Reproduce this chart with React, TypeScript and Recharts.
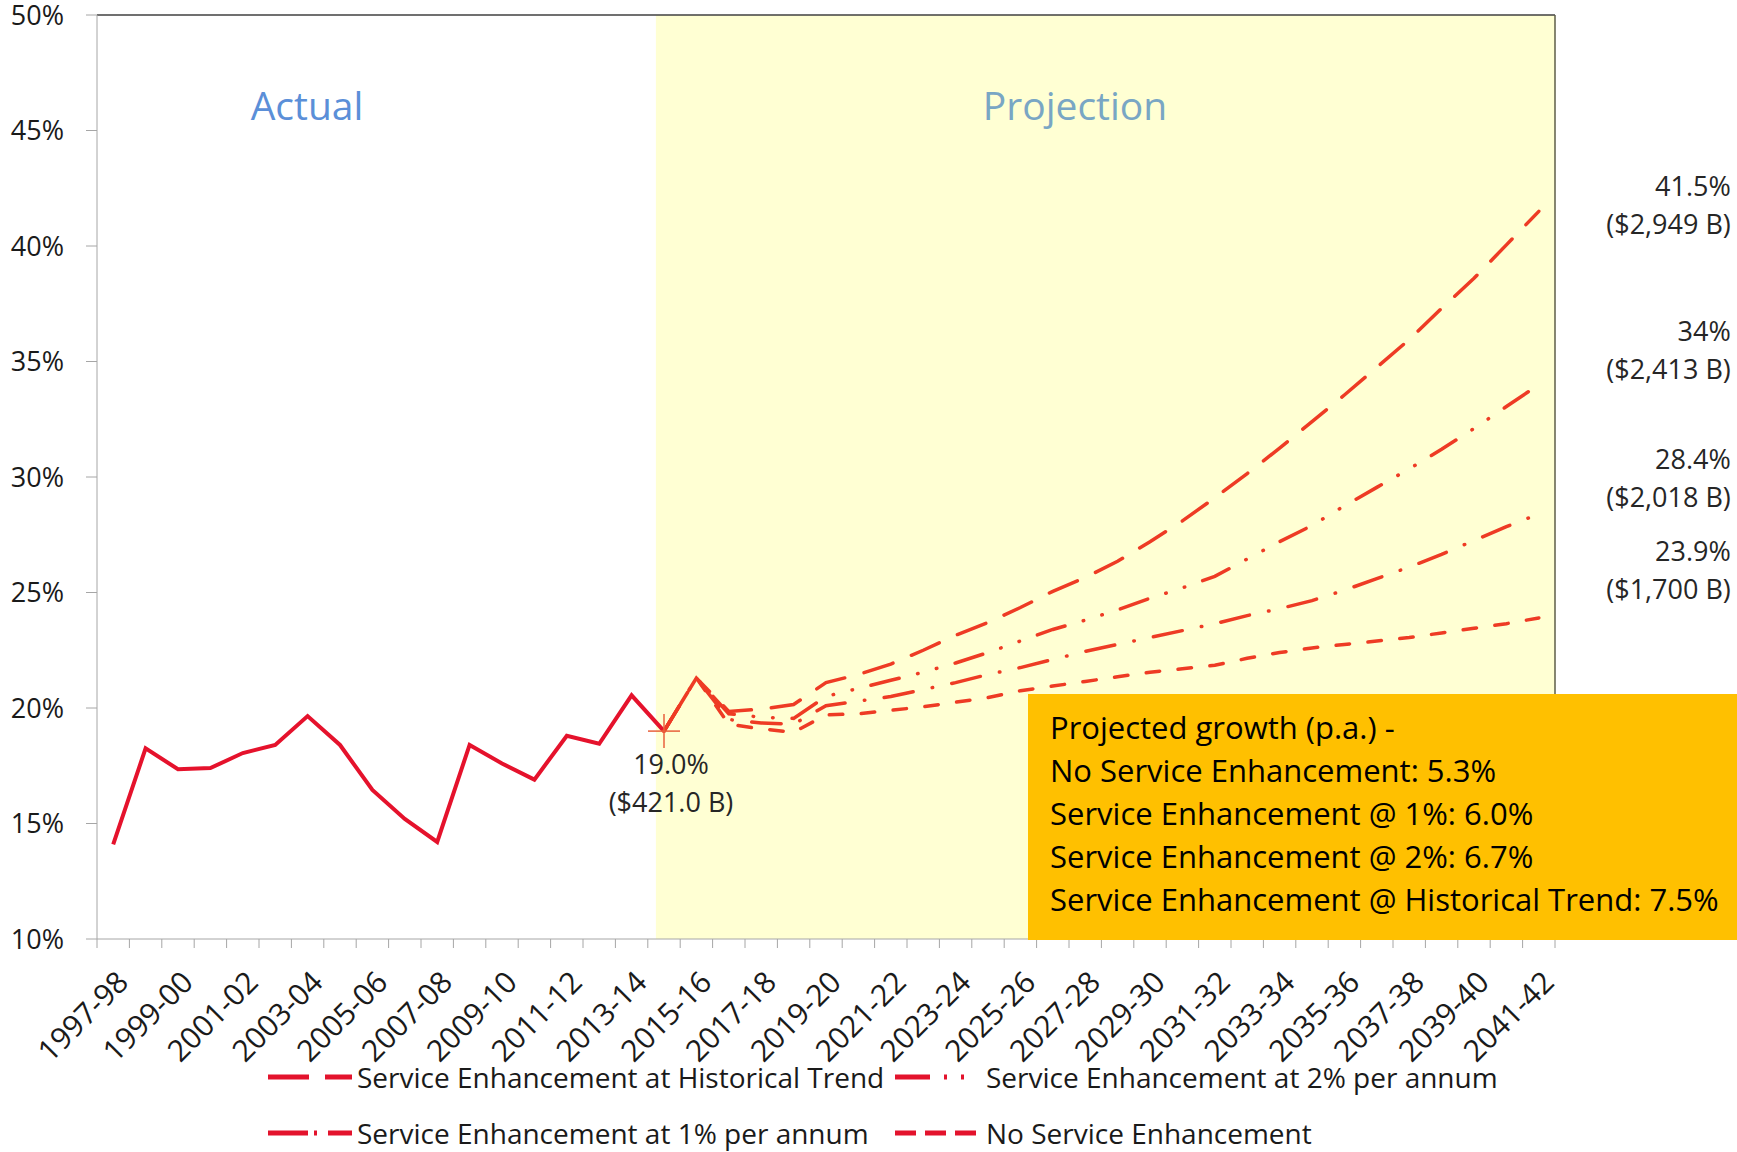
import React from 'react';
import { LineChart, Line, XAxis, YAxis, ReferenceArea, ReferenceLine, Legend } from 'recharts';

const years = [
  '1997-98', '1998-99', '1999-00', '2000-01', '2001-02', '2002-03', '2003-04', '2004-05', '2005-06',
  '2006-07', '2007-08', '2008-09', '2009-10', '2010-11', '2011-12', '2012-13', '2013-14', '2014-15',
  '2015-16', '2016-17', '2017-18', '2018-19', '2019-20', '2020-21', '2021-22', '2022-23', '2023-24',
  '2024-25', '2025-26', '2026-27', '2027-28', '2028-29', '2029-30', '2030-31', '2031-32', '2032-33',
  '2033-34', '2034-35', '2035-36', '2036-37', '2037-38', '2038-39', '2039-40', '2040-41', '2041-42',
];

// % values, 1997-98 .. 2014-15
const actual = [
  14.1, 18.25, 17.35, 17.4, 18.05, 18.4, 19.65, 18.4, 16.45, 15.2, 14.2, 18.4, 17.6, 16.9, 18.8, 18.45,
  20.55, 19.0,
];

// projections start at 2014-15
const projStart = 17;
const historicalTrend = [
  19.0, 21.3, 19.85, 19.95, 20.15, 21.1, 21.45, 21.9, 22.5, 23.15, 23.7, 24.35, 25.05, 25.65, 26.35,
  27.2, 28.1, 29.1, 30.15, 31.25, 32.4, 33.55, 34.75, 35.95, 37.3, 38.6, 40.05, 41.5,
];
const twoPct = [
  19.0, 21.3, 19.75, 19.6, 19.55, 20.5, 20.85, 21.2, 21.55, 21.95, 22.4, 22.9, 23.4, 23.8, 24.25, 24.75,
  25.2, 25.7, 26.45, 27.2, 27.9, 28.75, 29.55, 30.35, 31.2, 32.1, 33.05, 34.0,
];
const onePct = [
  19.0, 21.3, 19.5, 19.35, 19.3, 20.1, 20.3, 20.5, 20.8, 21.1, 21.45, 21.75, 22.1, 22.45, 22.75, 23.05,
  23.35, 23.65, 24.0, 24.3, 24.65, 25.1, 25.6, 26.1, 26.65, 27.25, 27.85, 28.4,
];
const noEnhancement = [
  19.0, 21.3, 19.3, 19.1, 18.95, 19.7, 19.75, 19.9, 20.05, 20.25, 20.45, 20.75, 20.95, 21.15, 21.35,
  21.55, 21.7, 21.85, 22.15, 22.4, 22.6, 22.75, 22.9, 23.05, 23.25, 23.45, 23.65, 23.9,
];

const yTicks = [10, 15, 20, 25, 30, 35, 40, 45, 50];
const growthLines = [
  'Projected growth (p.a.) -',
  'No Service Enhancement: 5.3%',
  'Service Enhancement @ 1%: 6.0%',
  'Service Enhancement @ 2%: 6.7%',
  'Service Enhancement @ Historical Trend: 7.5%',
];

const FONT = "'Open Sans', 'DejaVu Sans', sans-serif";
const PROJ_COLOR = '#EE3B24';
const LEGEND_COLOR = '#E3132C';
const PLOT_W = 1458;
const HALF_BAND = PLOT_W / years.length / 2;

const series = [
  { key: 'hist', name: 'Service Enhancement at Historical Trend', values: historicalTrend, dash: '30.5 20', legendDash: '41 16 30', endText: ['41.5%', '($2,949 B)'], endDy: [-25, 13] },
  { key: 'two', name: 'Service Enhancement at 2% per annum', values: twoPct, dash: '29 19 0.5 19 0.5 19', legendDash: '35 14 3 14 3 40', endText: ['34%', '($2,413 B)'], endDy: [-53, -15] },
  { key: 'one', name: 'Service Enhancement at 1% per annum', values: onePct, dash: '29.5 19.5 0.5 19.5', legendDash: '40 6 3 11 40', endText: ['28.4%', '($2,018 B)'], endDy: [-54, -16] },
  { key: 'none', name: 'No Service Enhancement', values: noEnhancement, dash: '13.5 18.5', legendDash: '21 9', endText: ['23.9%', '($1,700 B)'], endDy: [-66, -28] },
];

// x = category centre on a 0..45 numeric axis, so ticks can sit on the category boundaries
const data = years.map((year, i) => {
  const row: Record<string, any> = { year, x: i + 0.5 };
  if (i < actual.length) row.actual = actual[i];
  series.forEach((s) => {
    if (i >= projStart) row[s.key] = s.values[i - projStart];
  });
  return row;
});

const boundaryTicks = years.map((_, i) => i).concat(years.length);

const YearTick = ({ x, y, payload }: any) => {
  const k = payload.value;
  if (k % 2 !== 0 || k >= years.length) return <g />;
  const ax = x + HALF_BAND + 17;
  const ay = y + 34;
  return (
    <text x={ax} y={ay} transform={`rotate(-45, ${ax}, ${ay})`} textAnchor="end" fontSize={30} fontFamily={FONT} fill="#1a1a1a">
      {years[k]}
    </text>
  );
};

const legendPos = [
  { left: 268, top: 12 },
  { left: 895, top: 12 },
  { left: 268, top: 68 },
  { left: 895, top: 68 },
];

const renderLegend = () => (
  <div style={{ position: 'relative', width: 1737, height: 110 }}>
    {series.map((s, i) => (
      <div
        key={s.key}
        style={{ position: 'absolute', left: legendPos[i].left, top: legendPos[i].top, height: 40, display: 'flex', alignItems: 'center', whiteSpace: 'nowrap' }}
      >
        <svg width={i % 2 === 0 ? 84 : 82} height={10}>
          <line x1={0} y1={5} x2={i % 2 === 0 ? 84 : 82} y2={5} stroke={LEGEND_COLOR} strokeWidth={5} strokeDasharray={s.legendDash} />
        </svg>
        <span style={{ marginLeft: i % 2 === 0 ? 5 : 9, fontSize: 28, fontFamily: FONT, color: '#1a1a1a' }}>{s.name}</span>
      </div>
    ))}
  </div>
);

const makeEndLabel = (s: (typeof series)[number]) => (props: any) => {
  const { x, y, index } = props;
  if (index !== years.length - 1) return <g key={`l-${s.key}-${index}`} />;
  return (
    <g key={`l-${s.key}-${index}`}>
      {s.endText.map((t, k) => (
        <text key={k} x={x + 192} y={y + s.endDy[k]} dy="0.35em" textAnchor="end" fontSize={27} fontFamily={FONT} fill="#262626">
          {t}
        </text>
      ))}
    </g>
  );
};

const baseMarker = (props: any) => {
  const { cx, cy, index } = props;
  if (index !== projStart) return <g key={`m-${index}`} />;
  return (
    <g key={`m-${index}`}>
      <line x1={cx - 16} y1={cy} x2={cx + 16} y2={cy} stroke="#E8603C" strokeWidth={1.5} />
      <line x1={cx} y1={cy - 17} x2={cx} y2={cy + 17} stroke="#E8603C" strokeWidth={1.5} />
      <text x={cx + 7} y={cy + 33} dy="0.35em" textAnchor="middle" fontSize={27} fontFamily={FONT} fill="#262626">19.0%</text>
      <text x={cx + 7} y={cy + 71} dy="0.35em" textAnchor="middle" fontSize={27} fontFamily={FONT} fill="#262626">($421.0 B)</text>
    </g>
  );
};

export default function App() {
  return (
    <div style={{ position: 'absolute', left: 0, top: 0, width: 1737, height: 1152, background: '#fff', fontFamily: FONT }}>
      <LineChart width={1737} height={1152} data={data} margin={{ top: 15, right: 182, left: 0, bottom: 0 }}>
        <XAxis
          dataKey="x"
          type="number"
          domain={[0, years.length]}
          ticks={boundaryTicks}
          interval={0}
          allowDataOverflow
          height={213}
          tickSize={9}
          stroke="#A6A6A6"
          tick={<YearTick />}
        />
        <YAxis
          type="number"
          domain={[10, 50]}
          ticks={yTicks}
          allowDataOverflow
          width={97}
          tickFormatter={(v) => `${v}%`}
          tickSize={11}
          tickMargin={22}
          stroke="#A6A6A6"
          tick={{ fontSize: 27, fill: '#1a1a1a', fontFamily: FONT }}
        />
        <ReferenceArea x1={17.25} x2={years.length} y1={10} y2={50} fill="#FFFFD3" fillOpacity={1} stroke="none" ifOverflow="extendDomain" />
        <ReferenceLine y={50} stroke="#404040" strokeWidth={1.5} />
        <ReferenceLine x={years.length} stroke="#5E5E48" strokeWidth={1.5} />
        <Legend layout="vertical" verticalAlign="middle" align="center" content={renderLegend} wrapperStyle={{ position: 'absolute', left: 0, top: 1045, width: 1737, height: 110 }} />
        <Line dataKey="actual" stroke="#E5122C" strokeWidth={4} dot={false} isAnimationActive={false} legendType="none" />
        {series.map((s) => (
          <Line
            key={s.key}
            dataKey={s.key}
            name={s.name}
            stroke={PROJ_COLOR}
            strokeWidth={3.5}
            strokeDasharray={s.dash}
            strokeLinecap="round"
            dot={s.key === 'hist' ? baseMarker : false}
            label={makeEndLabel(s)}
            isAnimationActive={false}
          />
        ))}
      </LineChart>
      <div style={{ position: 'absolute', left: 307, top: 104, transform: 'translate(-50%, -50%)', fontSize: 39, color: '#5B8FD8', whiteSpace: 'nowrap' }}>Actual</div>
      <div style={{ position: 'absolute', left: 1075, top: 104, transform: 'translate(-50%, -50%)', fontSize: 39, color: '#79A6C4', whiteSpace: 'nowrap' }}>Projection</div>
      <div style={{ position: 'absolute', left: 1028, top: 694, width: 709, height: 246, background: '#FFC000', boxSizing: 'border-box', padding: '12px 0 0 22px' }}>
        {growthLines.map((t) => (
          <div key={t} style={{ fontSize: 31, lineHeight: '43px', color: '#000', whiteSpace: 'nowrap' }}>{t}</div>
        ))}
      </div>
    </div>
  );
}
